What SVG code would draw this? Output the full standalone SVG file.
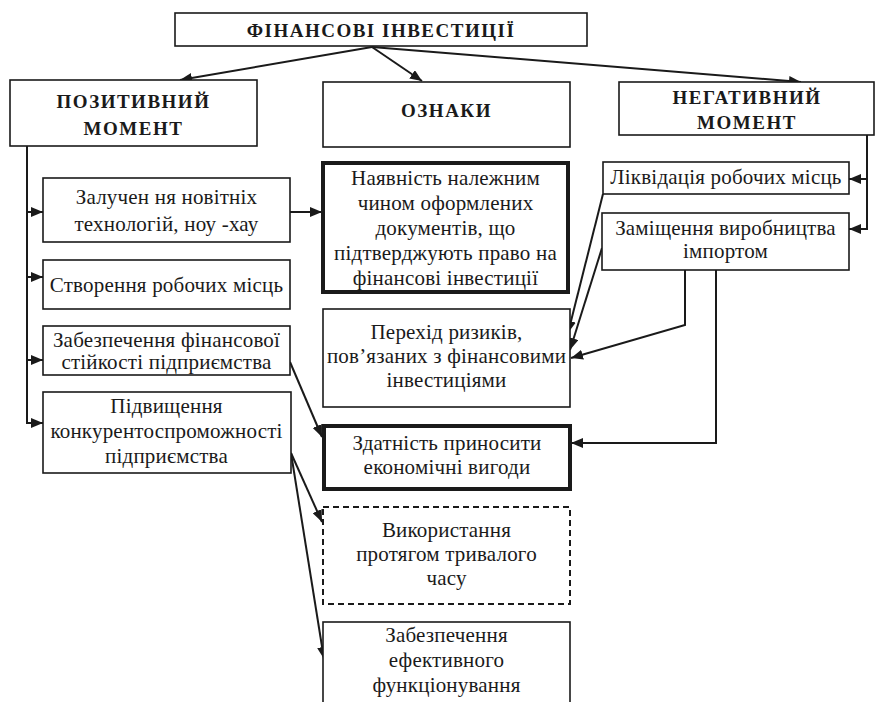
<svg xmlns="http://www.w3.org/2000/svg" width="876" height="702" viewBox="0 0 876 702" font-family="Liberation Serif, Times New Roman, serif">
<defs>
<marker id="ah" viewBox="0 0 12 10" refX="12" refY="5" markerWidth="12" markerHeight="10" markerUnits="userSpaceOnUse" orient="auto">
<path d="M0,0 L12,5 L0,10 z" fill="#1a1a1a"/>
</marker>
<style>
.box{fill:#fff;stroke:#1a1a1a;stroke-width:1.6}
.thick{fill:#fff;stroke:#1a1a1a;stroke-width:4}
.dash{fill:#fff;stroke:#1a1a1a;stroke-width:2;stroke-dasharray:6 4}
.t{font-size:21px;letter-spacing:0.2px;fill:#1a1a1a;text-anchor:middle}
.b{font-size:19px;letter-spacing:1.5px;font-weight:bold;fill:#1a1a1a;text-anchor:middle}
.c{fill:none;stroke:#1a1a1a;stroke-width:2}
.ca{fill:none;stroke:#1a1a1a;stroke-width:2;marker-end:url(#ah)}
</style>
</defs>
<rect width="876" height="702" fill="#fff"/>

<g id="connectors">
<line class="ca" x1="372" y1="47" x2="180" y2="80"/>
<line class="ca" x1="372" y1="47" x2="422" y2="81"/>
<line class="ca" x1="372" y1="47" x2="801" y2="82"/>
<line class="c" x1="27" y1="146" x2="27" y2="423"/>
<line class="ca" x1="27" y1="212" x2="43" y2="212"/>
<line class="ca" x1="27" y1="277" x2="43" y2="277"/>
<line class="ca" x1="27" y1="360" x2="43" y2="360"/>
<line class="ca" x1="26" y1="423" x2="43" y2="423"/>
<line class="ca" x1="290" y1="212" x2="322" y2="212"/>
<line class="ca" x1="290" y1="362" x2="322" y2="437"/>
<line class="ca" x1="291" y1="453" x2="322" y2="522"/>
<line class="ca" x1="291" y1="453" x2="324" y2="659"/>
<line class="c" x1="867" y1="135" x2="867" y2="230"/>
<line class="ca" x1="868" y1="179" x2="849" y2="179"/>
<line class="ca" x1="868" y1="229" x2="849" y2="229"/>
<line class="ca" x1="603" y1="194" x2="568" y2="333"/>
<line class="ca" x1="602" y1="248" x2="570" y2="350"/>
<polyline class="ca" points="685,270 685,325 571,358"/>
<polyline class="ca" points="716,270 716,443 571,443"/>
</g>

<g id="n-root"><rect class="box" x="175" y="13" width="412" height="33"/><text class="b" x="381" y="37">ФІНАНСОВІ ІНВЕСТИЦІЇ</text></g>
<g id="n-pos"><rect class="box" x="10" y="80" width="247" height="66"/><text class="b" x="133.5" y="108">ПОЗИТИВНИЙ</text><text class="b" x="133.5" y="135">МОМЕНТ</text></g>
<g id="n-oznaky"><rect class="box" x="323" y="82" width="247" height="65"/><text class="b" x="446.5" y="117">ОЗНАКИ</text></g>
<g id="n-neg"><rect class="box" x="619" y="82" width="255" height="53"/><text class="b" x="747" y="104">НЕГАТИВНИЙ</text><text class="b" x="747" y="129">МОМЕНТ</text></g>

<g id="n-zaluch"><rect class="box" x="43" y="178" width="247" height="64"/><text class="t" x="166.5" y="204">Залучен ня новітніх</text><text class="t" x="166.5" y="231">технологій, ноу -хау</text></g>
<g id="n-stvor"><rect class="box" x="43" y="260" width="247" height="49"/><text class="t" x="166.5" y="292">Створення робочих місць</text></g>
<g id="n-zabfin"><rect class="box" x="43" y="326" width="247" height="49"/><text class="t" x="166.5" y="347">Забезпечення фінансової</text><text class="t" x="166.5" y="369">стійкості підприємства</text></g>
<g id="n-pidv"><rect class="box" x="43" y="392" width="248" height="81"/><text class="t" x="166.5" y="413">Підвищення</text><text class="t" x="166.5" y="438">конкурентоспроможності</text><text class="t" x="166.5" y="463">підприємства</text></g>

<g id="n-nayav"><rect class="thick" x="323" y="163" width="245" height="129"/><text class="t" x="445.5" y="185">Наявність належним</text><text class="t" x="445.5" y="210">чином оформлених</text><text class="t" x="445.5" y="235">документів, що</text><text class="t" x="445.5" y="260">підтверджують право на</text><text class="t" x="445.5" y="285">фінансові інвестиції</text></g>
<g id="n-perekhid"><rect class="box" x="323" y="309" width="247" height="98"/><text class="t" x="446.5" y="339">Перехід ризиків,</text><text class="t" x="446.5" y="363">пов’язаних з фінансовими</text><text class="t" x="446.5" y="387">інвестиціями</text></g>
<g id="n-zdatn"><rect class="thick" x="324" y="426" width="246" height="63"/><text class="t" x="447" y="450">Здатність приносити</text><text class="t" x="447" y="474">економічні вигоди</text></g>
<g id="n-vykor"><rect class="dash" x="323" y="507" width="247" height="97"/><text class="t" x="446.5" y="537">Використання</text><text class="t" x="446.5" y="561">протягом тривалого</text><text class="t" x="446.5" y="585">часу</text></g>
<g id="n-zabef"><rect class="box" x="323" y="622" width="247" height="90"/><text class="t" x="446.5" y="642">Забезпечення</text><text class="t" x="446.5" y="667">ефективного</text><text class="t" x="446.5" y="692">функціонування</text></g>

<g id="n-likv"><rect class="box" x="603" y="162" width="246" height="32"/><text class="t" x="726" y="184">Ліквідація робочих місць</text></g>
<g id="n-zamish"><rect class="box" x="602" y="213" width="247" height="57"/><text class="t" x="725.5" y="235">Заміщення виробництва</text><text class="t" x="725.5" y="258">імпортом</text></g>
</svg>
